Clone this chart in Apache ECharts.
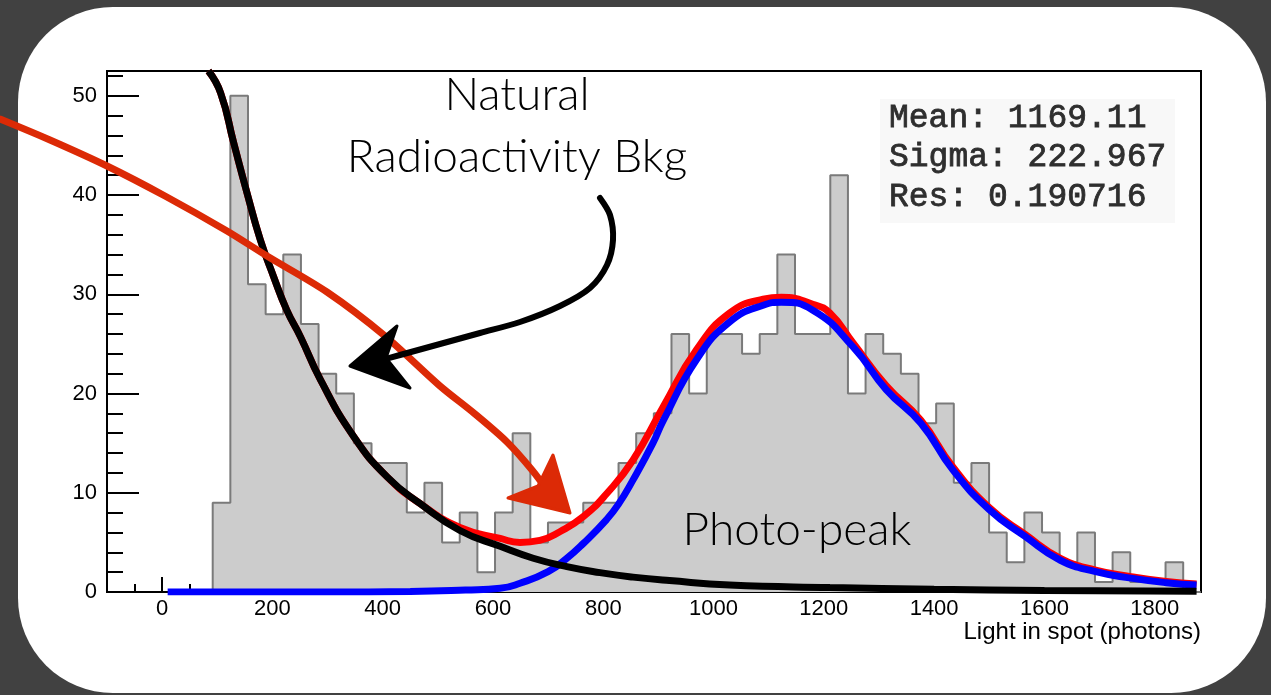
<!DOCTYPE html>
<html><head><meta charset="utf-8">
<script src="https://cdn.jsdelivr.net/npm/echarts@6/dist/echarts.min.js"></script>
<style>html,body{margin:0;padding:0;background:#414141;}#chart{width:1271px;height:695px;}</style>
</head><body><div id="chart"></div>
<script>
// Histogram: bin edges start and width, counts per bin
const binStart = 91.7;
const binWidth = 32.0;
const counts = [9,50,31,28,34,27,22,20,15,13,13,8,11,5,8,2,8,16,5,7,7,9,9,13,16,18,26,20,26,26,24,26,34,26,26,42,20,26,24,22,17,19,11,13,6,3,8,6,3,6,1,4,1,1,3,0];

// Background (exponential) fit curve
const bkgX = [84,106,130,154,178,202,226,251,287,347,408,468,540,613,673,734,794,854,920,1029,1211,1400,1600,1876];
const bkgY = [52.5,50.3,45.2,40.2,35.5,31.8,28.4,25.7,21.4,15.7,11.6,8.9,6.2,4.6,3.4,2.55,1.95,1.5,1.15,0.7,0.45,0.28,0.16,0.08];

// Photo-peak (gaussian) fit curve
const peakX = [10,300,450,550,613,649,700,734,764,806,827,854,890,909,969,1029,1090,1123,1180,1253,1313,1376,1434,1500,1565,1629,1693,1757,1821,1876];
const peakY = [0,0,0.05,0.2,0.37,0.88,2.05,3.4,4.9,7.3,8.8,11.3,15.0,17.3,23.4,27.2,28.9,29.2,28.4,24.7,20.4,17.0,12.3,8.3,5.6,3.2,2.05,1.4,0.94,0.7];

// Total fit curve
const totalX = [84,106,130,154,178,202,226,251,287,347,408,468,540,613,649,685,722,764,806,854,909,969,1029,1090,1123,1180,1211,1253,1313,1376,1434,1500,1565,1629,1693,1757,1821,1876];
const totalY = [52.5,50.3,45.2,40.2,35.5,31.8,28.4,25.7,21.4,15.7,11.6,8.9,6.5,5.4,5.0,5.2,6.1,7.6,9.9,13.3,18.7,24.4,28.1,29.5,29.7,29.0,28.1,25.1,20.8,17.3,12.6,8.5,5.8,3.4,2.2,1.55,1.05,0.8];

const statsLines = ['Mean: 1169.11', 'Sigma: 222.967', 'Res: 0.190716'];
const xTitle = 'Light in spot (photons)';
const annoBkg = ['Natural', 'Radioactivity Bkg'];
const annoPeak = 'Photo-peak';

const histData = [[binStart, 0]].concat(counts.map((c, i) => [binStart + i * binWidth, c]));
histData.push([binStart + counts.length * binWidth, 0]);
const zip = (xs, ys) => xs.map((x, i) => [x, ys[i]]);

const chart = echarts.init(document.getElementById('chart'), null, {renderer: 'canvas'});
const axisFont = 'Liberation Sans, Arial, Helvetica, sans-serif';
const monoFont = '33px "Liberation Mono", "DejaVu Sans Mono", monospace';
const annoFontCss = '300 46px Lato, Inter, sans-serif';
const statStyle = t => ({text: t, font: monoFont, fill: '#2e2e2e', stroke: '#2e2e2e', lineWidth: 0.8, verticalAlign: 'middle', align: 'left'});

chart.setOption({
  backgroundColor: '#414141',
  animation: false,
  grid: {left: 107, right: 70, top: 71, bottom: 103, containLabel: false, outerBoundsMode: 'none',
    show: true, borderColor: '#000', borderWidth: 2, backgroundColor: 'transparent'},
  xAxis: {
    type: 'value', min: -100, max: 1884, splitNumber: 10,
    axisLine: {show: true, onZero: false, lineStyle: {color: '#000', width: 2}},
    axisTick: {show: true, inside: true, length: 15, lineStyle: {color: '#000', width: 2}},
    minorTick: {show: true, splitNumber: 4, length: 8, lineStyle: {color: '#000', width: 2}},
    splitLine: {show: false}, minorSplitLine: {show: false},
    axisLabel: {fontSize: 22, color: '#000', fontFamily: axisFont, margin: 6,
      formatter: v => (Math.abs(v % 200) < 1e-6 ? String(v) : '')}
  },
  yAxis: {
    type: 'value', min: 0, max: 52.5, interval: 10,
    axisLine: {show: true, onZero: false, lineStyle: {color: '#000', width: 2}},
    axisTick: {show: true, inside: true, length: 32, lineStyle: {color: '#000', width: 2}},
    minorTick: {show: true, splitNumber: 5, length: 16, lineStyle: {color: '#000', width: 2}},
    splitLine: {show: false}, minorSplitLine: {show: false},
    axisLabel: {fontSize: 22, color: '#000', fontFamily: axisFont, margin: 10,
      formatter: v => (Math.abs(v % 10) < 1e-6 ? String(v) : '')}
  },
  series: [
    {type: 'line', name: 'hist', data: histData, step: 'end', symbol: 'none', z: 1,
      lineStyle: {color: '#7a7a7a', width: 2}, areaStyle: {color: '#cccccc', opacity: 1}},
    {type: 'line', name: 'total', data: zip(totalX, totalY), smooth: 0.5, symbol: 'none', z: 3,
      lineStyle: {color: '#ff0000', width: 7}},
    {type: 'line', name: 'peak', data: zip(peakX, peakY), smooth: 0.5, symbol: 'none', z: 4,
      lineStyle: {color: '#0000ff', width: 7}},
    {type: 'line', name: 'bkg', data: zip(bkgX, bkgY), smooth: 0.5, symbol: 'none', z: 5,
      lineStyle: {color: '#000000', width: 7}}
  ],
  graphic: [
    {type: 'rect', z: -10, silent: true, shape: {x: 18, y: 7, width: 1248, height: 686, r: 95}, style: {fill: '#ffffff'}},
    {type: 'text', z: 21, x: 1201, y: 632, style: {text: xTitle, font: '24px "Liberation Sans", Arial, sans-serif', fill: '#000', align: 'right', verticalAlign: 'middle'}},
    {type: 'rect', z: 20, silent: true, shape: {x: 880, y: 99, width: 295, height: 124}, style: {fill: '#f8f8f8'}},
    {type: 'text', z: 21, x: 889, y: 118, style: statStyle(statsLines[0])},
    {type: 'text', z: 21, x: 889, y: 157, style: statStyle(statsLines[1])},
    {type: 'text', z: 21, x: 889, y: 197, style: statStyle(statsLines[2])},
    {type: 'text', z: 21, x: 517, y: 95, style: {text: annoBkg[0], font: annoFontCss, fill: '#000', align: 'center', verticalAlign: 'middle'}},
    {type: 'text', z: 21, x: 517, y: 157, style: {text: annoBkg[1], font: annoFontCss, fill: '#000', align: 'center', verticalAlign: 'middle'}},
    {type: 'text', z: 21, x: 797, y: 530, style: {text: annoPeak, font: annoFontCss, fill: '#000', align: 'center', verticalAlign: 'middle'}},
    {type: 'polyline', z: 30, silent: true, shape: {smooth: 0.3, points: [[0,119],[50,140],[107,166],[165,196],[227,231],[267,256],[327,292],[385,336],[440,386],[475,414],[507,442],[532,470],[550,494]]},
      style: {stroke: '#dc2a06', lineWidth: 7, fill: null, lineCap: 'round', lineJoin: 'round'}},
    {type: 'polygon', z: 30, silent: true, shape: {points: [[553,455],[570,513],[508,498],[538,486]]}, style: {fill: '#dc2a06', stroke: '#dc2a06', lineWidth: 3, lineJoin: 'round'}},
    {type: 'polyline', z: 30, silent: true, shape: {smooth: 0.3, points: [[600,198],[610,215],[613,240],[607,265],[590,288],[560,306],[520,322],[480,333],[440,344],[400,355],[378,361]]},
      style: {stroke: '#000', lineWidth: 6, fill: null, lineCap: 'round', lineJoin: 'round'}},
    {type: 'polygon', z: 30, silent: true, shape: {points: [[350,366],[397,326],[386,358],[410,388]]}, style: {fill: '#000', stroke: '#000', lineWidth: 3, lineJoin: 'round'}}
  ]
});
</script></body></html>
